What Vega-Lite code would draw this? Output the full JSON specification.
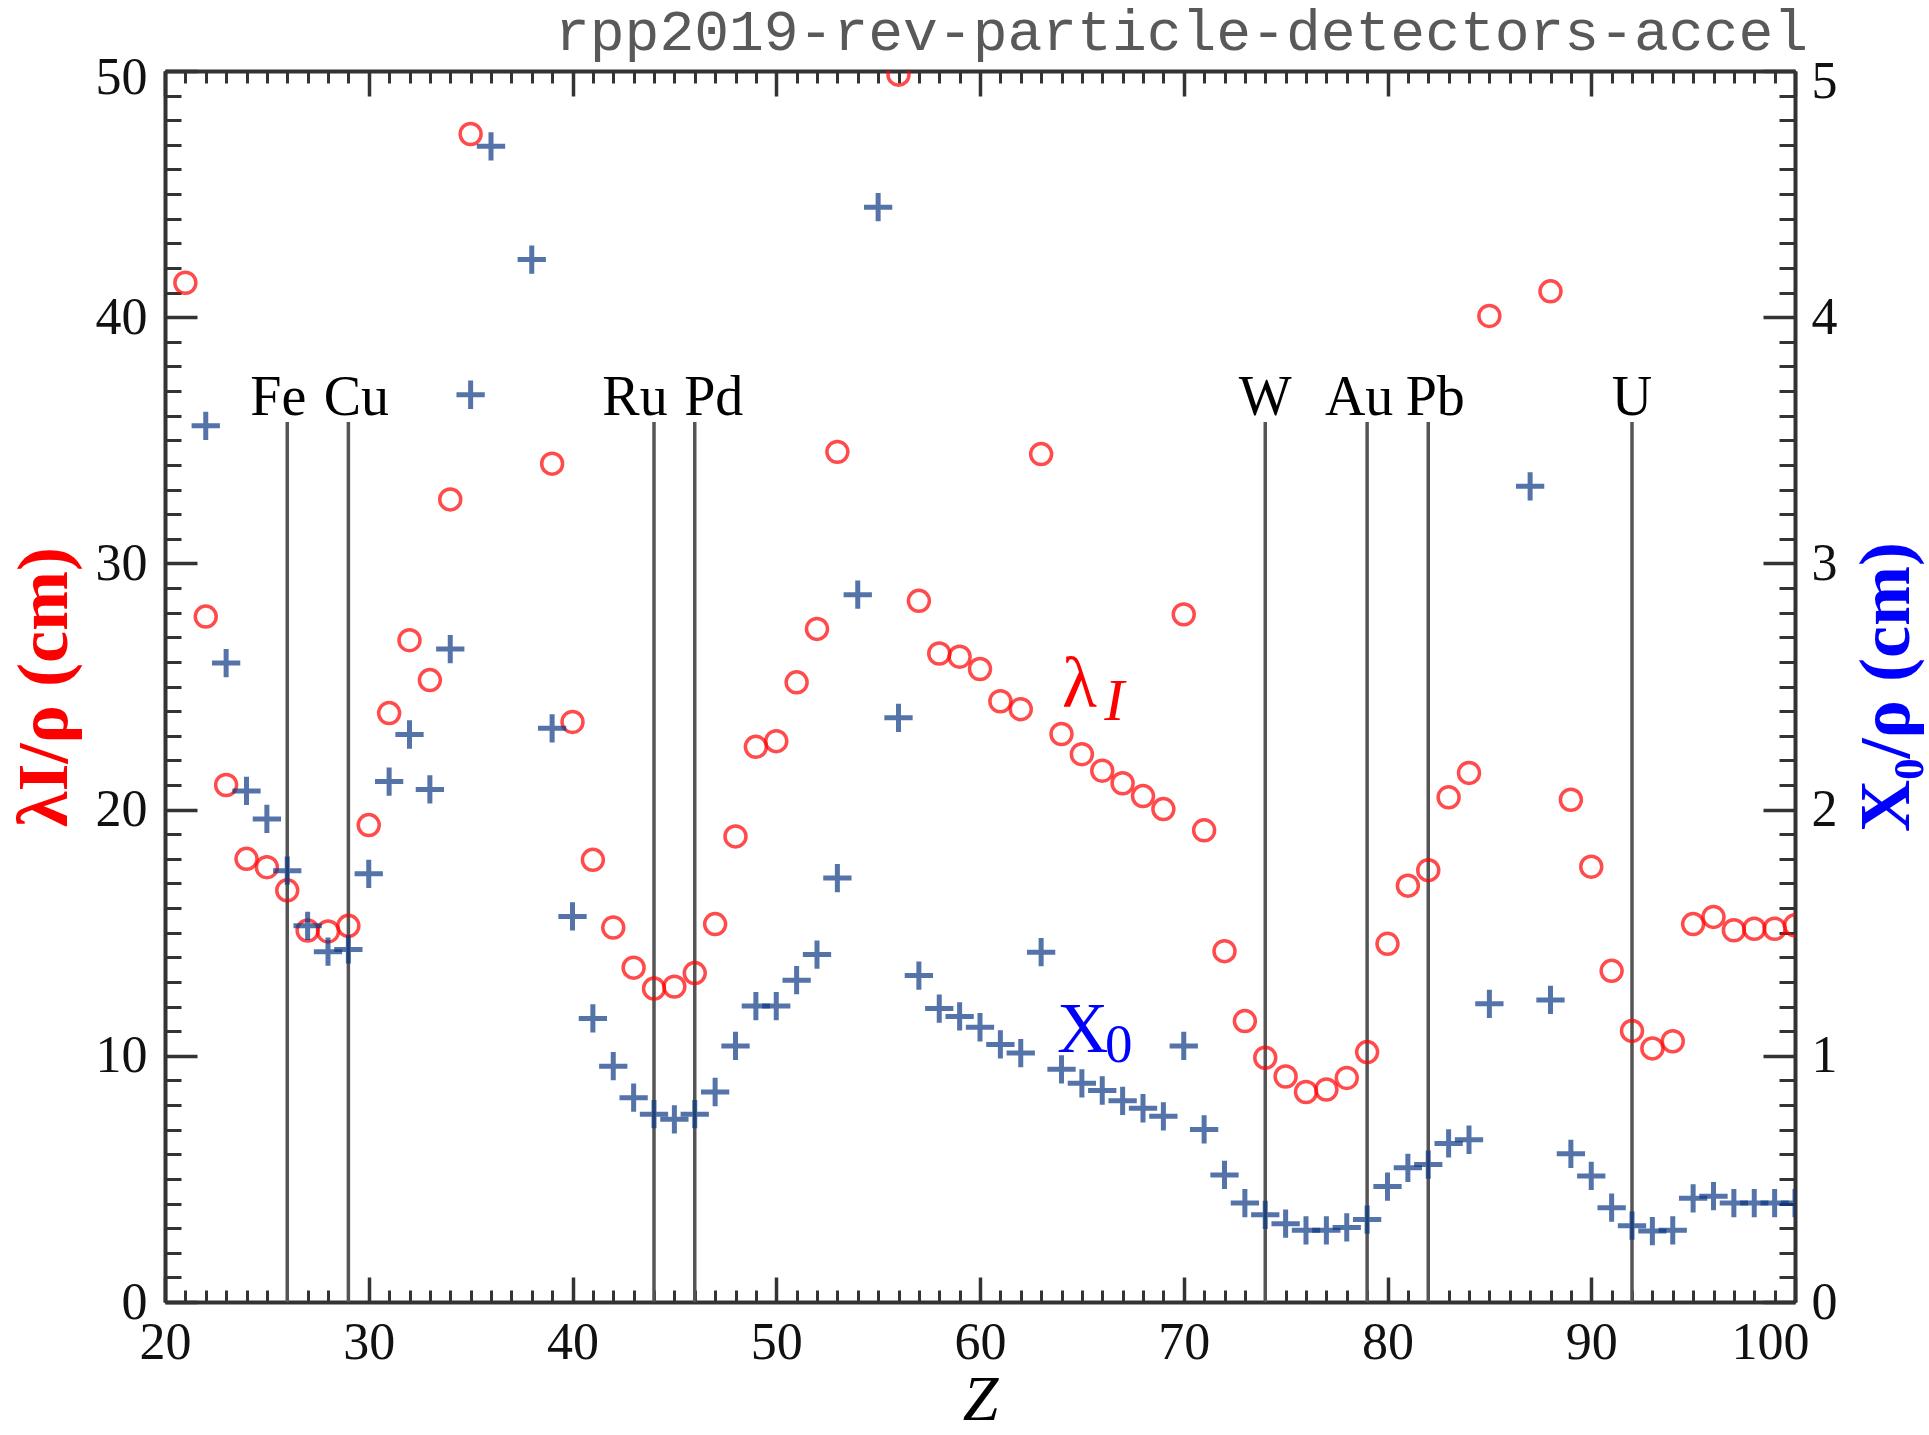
{
  "$schema": "https://vega.github.io/schema/vega-lite/v6.json",
  "width": 1630,
  "height": 1231,
  "autosize": {"type": "none"},
  "padding": {"left": 165, "top": 71, "right": 134, "bottom": 133},
  "background": "white",
  "title": {
    "text": "rpp2019-rev-particle-detectors-accel",
    "anchor": "end",
    "frame": "group",
    "orient": "top",
    "font": "Liberation Mono",
    "fontSize": 58,
    "fontWeight": "normal",
    "color": "#595959",
    "offset": -69,
    "dx": 13,
    "baseline": "bottom"
  },
  "config": {
    "view": {"stroke": null},
    "axis": {
      "grid": false,
      "domainColor": "#333333",
      "domainWidth": 4,
      "tickColor": "#333333",
      "tickWidth": 3,
      "labelFont": "Liberation Serif",
      "labelFontSize": 52,
      "labelColor": "#111111",
      "labelFontWeight": "normal",
      "titleFont": "Liberation Serif"
    }
  },
  "datasets": {
    "elements": [
      {"el": "Fe", "Z": 26},
      {"el": "Cu", "Z": 29},
      {"el": "Ru", "Z": 44},
      {"el": "Pd", "Z": 46},
      {"el": "W", "Z": 74},
      {"el": "Au", "Z": 79},
      {"el": "Pb", "Z": 82},
      {"el": "U", "Z": 92}
    ],
    "values": [
      {"Z": 21, "lambda": 41.4, "X0": null},
      {"Z": 22, "lambda": 27.84, "X0": 3.559},
      {"Z": 23, "lambda": 21.0, "X0": 2.595},
      {"Z": 24, "lambda": 18.0, "X0": 2.076},
      {"Z": 25, "lambda": 17.66, "X0": 1.962},
      {"Z": 26, "lambda": 16.72, "X0": 1.752},
      {"Z": 27, "lambda": 15.09, "X0": 1.528},
      {"Z": 28, "lambda": 15.05, "X0": 1.423},
      {"Z": 29, "lambda": 15.28, "X0": 1.432},
      {"Z": 30, "lambda": 19.37, "X0": 1.739},
      {"Z": 31, "lambda": 23.92, "X0": 2.114},
      {"Z": 32, "lambda": 26.88, "X0": 2.305},
      {"Z": 33, "lambda": 25.26, "X0": 2.082},
      {"Z": 34, "lambda": 32.6, "X0": 2.652},
      {"Z": 35, "lambda": 47.44, "X0": 3.685},
      {"Z": 36, "lambda": null, "X0": 4.694},
      {"Z": 38, "lambda": null, "X0": 4.234},
      {"Z": 39, "lambda": 34.05, "X0": 2.33},
      {"Z": 40, "lambda": 23.56, "X0": 1.566},
      {"Z": 41, "lambda": 17.96, "X0": 1.152},
      {"Z": 42, "lambda": 15.21, "X0": 0.958},
      {"Z": 43, "lambda": 13.58, "X0": 0.83},
      {"Z": 44, "lambda": 12.73, "X0": 0.763},
      {"Z": 45, "lambda": 12.81, "X0": 0.742},
      {"Z": 46, "lambda": 13.36, "X0": 0.763},
      {"Z": 47, "lambda": 15.35, "X0": 0.853},
      {"Z": 48, "lambda": 18.91, "X0": 1.04},
      {"Z": 49, "lambda": 22.55, "X0": 1.202},
      {"Z": 50, "lambda": 22.78, "X0": 1.202},
      {"Z": 51, "lambda": 25.17, "X0": 1.307},
      {"Z": 52, "lambda": 27.34, "X0": 1.411},
      {"Z": 53, "lambda": 34.53, "X0": 1.722},
      {"Z": 54, "lambda": null, "X0": 2.873},
      {"Z": 55, "lambda": null, "X0": 4.447},
      {"Z": 56, "lambda": 49.85, "X0": 2.373},
      {"Z": 57, "lambda": 28.48, "X0": 1.326},
      {"Z": 58, "lambda": 26.34, "X0": 1.192},
      {"Z": 59, "lambda": 26.21, "X0": 1.16},
      {"Z": 60, "lambda": 25.71, "X0": 1.116},
      {"Z": 61, "lambda": 24.4, "X0": 1.046},
      {"Z": 62, "lambda": 24.08, "X0": 1.011},
      {"Z": 63, "lambda": 34.44, "X0": 1.421},
      {"Z": 64, "lambda": 23.07, "X0": 0.945},
      {"Z": 65, "lambda": 22.25, "X0": 0.888},
      {"Z": 66, "lambda": 21.58, "X0": 0.859},
      {"Z": 67, "lambda": 21.07, "X0": 0.817},
      {"Z": 68, "lambda": 20.55, "X0": 0.787},
      {"Z": 69, "lambda": 20.02, "X0": 0.754},
      {"Z": 70, "lambda": 27.93, "X0": 1.04},
      {"Z": 71, "lambda": 19.16, "X0": 0.701},
      {"Z": 72, "lambda": 14.25, "X0": 0.516},
      {"Z": 73, "lambda": 11.41, "X0": 0.402},
      {"Z": 74, "lambda": 9.92, "X0": 0.354},
      {"Z": 75, "lambda": 9.16, "X0": 0.318},
      {"Z": 76, "lambda": 8.53, "X0": 0.291},
      {"Z": 77, "lambda": 8.63, "X0": 0.291},
      {"Z": 78, "lambda": 9.1, "X0": 0.303},
      {"Z": 79, "lambda": 10.15, "X0": 0.335},
      {"Z": 80, "lambda": 14.55, "X0": 0.469},
      {"Z": 81, "lambda": 16.91, "X0": 0.545},
      {"Z": 82, "lambda": 17.54, "X0": 0.558},
      {"Z": 83, "lambda": 20.5, "X0": 0.644},
      {"Z": 84, "lambda": 21.49, "X0": 0.659},
      {"Z": 85, "lambda": 40.05, "X0": 1.211},
      {"Z": 87, "lambda": null, "X0": 3.313},
      {"Z": 88, "lambda": 41.05, "X0": 1.227},
      {"Z": 89, "lambda": 20.4, "X0": 0.602},
      {"Z": 90, "lambda": 17.68, "X0": 0.512},
      {"Z": 91, "lambda": 13.45, "X0": 0.383},
      {"Z": 92, "lambda": 11.01, "X0": 0.31},
      {"Z": 93, "lambda": 10.3, "X0": 0.288},
      {"Z": 94, "lambda": 10.59, "X0": 0.291},
      {"Z": 95, "lambda": 15.35, "X0": 0.421},
      {"Z": 96, "lambda": 15.64, "X0": 0.43},
      {"Z": 97, "lambda": 15.1, "X0": 0.402},
      {"Z": 98, "lambda": 15.16, "X0": 0.402},
      {"Z": 99, "lambda": 15.16, "X0": 0.402},
      {"Z": 100, "lambda": 15.3, "X0": 0.402}
    ]
  },
  "layer": [
    {
      "data": {"name": "elements"},
      "mark": {"type": "rule", "color": "#555555", "strokeWidth": 3.5},
      "encoding": {
        "x": {
          "field": "Z", "type": "quantitative",
          "scale": {"domain": [20, 100], "nice": false, "zero": false},
          "axis": {
            "orient": "bottom", "labels": false, "domain": false, "title": null,
            "tickSize": -12, "tickWidth": 3,
            "values": [20,21,22,23,24,25,26,27,28,29,30,31,32,33,34,35,36,37,38,39,40,41,42,43,44,45,46,47,48,49,50,51,52,53,54,55,56,57,58,59,60,61,62,63,64,65,66,67,68,69,70,71,72,73,74,75,76,77,78,79,80,81,82,83,84,85,86,87,88,89,90,91,92,93,94,95,96,97,98,99,100]
          }
        },
        "y": {
          "datum": 0, "type": "quantitative",
          "scale": {"domain": [0, 50], "nice": false, "zero": false},
          "axis": {
            "orient": "left", "labels": false, "domain": false, "title": null,
            "tickSize": -16, "tickWidth": 3,
            "values": [0,1,2,3,4,5,6,7,8,9,10,11,12,13,14,15,16,17,18,19,20,21,22,23,24,25,26,27,28,29,30,31,32,33,34,35,36,37,38,39,40,41,42,43,44,45,46,47,48,49,50]
          }
        },
        "y2": {"datum": 35.74}
      }
    },
    {
      "data": {"name": "elements"},
      "mark": {
        "type": "text", "font": "Liberation Serif", "fontSize": 56, "color": "#000000",
        "align": "center", "baseline": "alphabetic",
        "dx": {"expr": "datum.el === 'Fe' ? -9 : datum.el === 'Cu' ? 8 : datum.el === 'Ru' ? -19 : datum.el === 'Pd' ? 19 : datum.el === 'Au' ? -8 : datum.el === 'Pb' ? 7 : 0"}
      },
      "encoding": {
        "x": {
          "field": "Z", "type": "quantitative",
          "scale": {"domain": [20, 100], "nice": false, "zero": false},
          "axis": {
            "orient": "top", "labels": false, "domain": false, "title": null,
            "tickSize": -12, "tickWidth": 3,
            "values": [20,21,22,23,24,25,26,27,28,29,30,31,32,33,34,35,36,37,38,39,40,41,42,43,44,45,46,47,48,49,50,51,52,53,54,55,56,57,58,59,60,61,62,63,64,65,66,67,68,69,70,71,72,73,74,75,76,77,78,79,80,81,82,83,84,85,86,87,88,89,90,91,92,93,94,95,96,97,98,99,100]
          }
        },
        "y": {
          "datum": 36.03, "type": "quantitative",
          "scale": {"domain": [0, 50], "nice": false, "zero": false},
          "axis": {
            "orient": "right", "labels": false, "domain": false, "title": null,
            "tickSize": -16, "tickWidth": 3,
            "values": [0,1,2,3,4,5,6,7,8,9,10,11,12,13,14,15,16,17,18,19,20,21,22,23,24,25,26,27,28,29,30,31,32,33,34,35,36,37,38,39,40,41,42,43,44,45,46,47,48,49,50]
          }
        },
        "text": {"field": "el", "type": "nominal"}
      }
    },
    {
      "data": {"name": "values"},
      "transform": [{"filter": "isValid(datum.lambda)"}],
      "mark": {"type": "point", "shape": "circle", "filled": false, "stroke": "#ff0000", "strokeWidth": 3.5, "size": 440, "clip": true},
      "encoding": {
        "x": {
          "field": "Z", "type": "quantitative",
          "scale": {"domain": [20, 100], "nice": false, "zero": false},
          "axis": {
            "orient": "bottom", "values": [20, 30, 40, 50, 60, 70, 80, 90, 100],
            "tickSize": -25, "tickWidth": 3.5, "labelPadding": 40, "labelFlush": false,
            "labelOffset": {"condition": {"test": "datum.value === 100", "value": -25}, "value": 0},
            "domain": true,
            "title": "Z", "titleFontSize": 64, "titleFontStyle": "italic", "titleFontWeight": "normal",
            "titleColor": "#000000", "titlePadding": 0
          }
        },
        "y": {
          "field": "lambda", "type": "quantitative",
          "scale": {"domain": [0, 50], "nice": false, "zero": false},
          "axis": {
            "orient": "left", "values": [0, 10, 20, 30, 40, 50],
            "tickSize": -32, "tickWidth": 3.5, "labelPadding": 50, "domain": true,
            "labelOffset": {"condition": {"test": "datum.value === 50", "value": 6}, "value": 0},
            "title": "λI/ρ (cm)", "titleColor": "#ff0000", "titleFontSize": 72, "titleFontWeight": "bold",
            "titlePadding": 14
          }
        }
      }
    },
    {
      "data": {"name": "values"},
      "transform": [{"filter": "isValid(datum.X0)"}],
      "mark": {"type": "point", "shape": "M-1,0L1,0M0,-1L0,1", "filled": false, "stroke": "#0d3a85", "strokeWidth": 5, "size": 800, "clip": true},
      "encoding": {
        "x": {
          "field": "Z", "type": "quantitative",
          "scale": {"domain": [20, 100], "nice": false, "zero": false},
          "axis": {
            "orient": "top", "values": [20, 30, 40, 50, 60, 70, 80, 90, 100],
            "tickSize": -25, "tickWidth": 3.5, "labels": false, "domain": true, "title": null
          }
        },
        "y": {
          "field": "X0", "type": "quantitative",
          "scale": {"domain": [0, 5], "nice": false, "zero": false},
          "axis": {
            "orient": "right", "values": [0, 1, 2, 3, 4, 5],
            "tickSize": -32, "tickWidth": 3.5, "labelPadding": 48, "domain": true,
            "labelOffset": {"condition": {"test": "datum.value === 5", "value": 10}, "value": 0},
            "title": "X₀/ρ (cm)", "titleColor": "#0000ff", "titleFontSize": 72, "titleFontWeight": "bold",
            "titleAngle": -90, "titleBaseline": "top", "titlePadding": 14
          }
        }
      }
    },
    {
      "data": {"values": [{"t": "λ"}]},
      "mark": {"type": "text", "font": "Liberation Serif", "fontSize": 72, "color": "#ff0000", "align": "left", "baseline": "alphabetic"},
      "encoding": {
        "x": {"datum": 64.02, "type": "quantitative", "scale": {"domain": [20, 100], "nice": false, "zero": false}, "axis": null},
        "y": {"datum": 24.17, "type": "quantitative", "scale": {"domain": [0, 50], "nice": false, "zero": false}, "axis": null},
        "text": {"field": "t", "type": "nominal"}
      }
    },
    {
      "data": {"values": [{"t": "I"}]},
      "mark": {"type": "text", "font": "Liberation Serif", "fontSize": 60, "fontStyle": "italic", "color": "#ff0000", "align": "left", "baseline": "alphabetic"},
      "encoding": {
        "x": {"datum": 66.1, "type": "quantitative", "scale": {"domain": [20, 100], "nice": false, "zero": false}, "axis": null},
        "y": {"datum": 23.64, "type": "quantitative", "scale": {"domain": [0, 50], "nice": false, "zero": false}, "axis": null},
        "text": {"field": "t", "type": "nominal"}
      }
    },
    {
      "data": {"values": [{"t": "X"}]},
      "mark": {"type": "text", "font": "Liberation Serif", "fontSize": 71, "color": "#0000ff", "align": "left", "baseline": "alphabetic"},
      "encoding": {
        "x": {"datum": 63.78, "type": "quantitative", "scale": {"domain": [20, 100], "nice": false, "zero": false}, "axis": null},
        "y": {"datum": 10.15, "type": "quantitative", "scale": {"domain": [0, 50], "nice": false, "zero": false}, "axis": null},
        "text": {"field": "t", "type": "nominal"}
      }
    },
    {
      "data": {"values": [{"t": "0"}]},
      "mark": {"type": "text", "font": "Liberation Serif", "fontSize": 55, "color": "#0000ff", "align": "left", "baseline": "alphabetic"},
      "encoding": {
        "x": {"datum": 66.13, "type": "quantitative", "scale": {"domain": [20, 100], "nice": false, "zero": false}, "axis": null},
        "y": {"datum": 9.75, "type": "quantitative", "scale": {"domain": [0, 50], "nice": false, "zero": false}, "axis": null},
        "text": {"field": "t", "type": "nominal"}
      }
    }
  ],
  "resolve": {
    "scale": {"y": "independent"},
    "axis": {"x": "independent", "y": "independent"}
  }
}
